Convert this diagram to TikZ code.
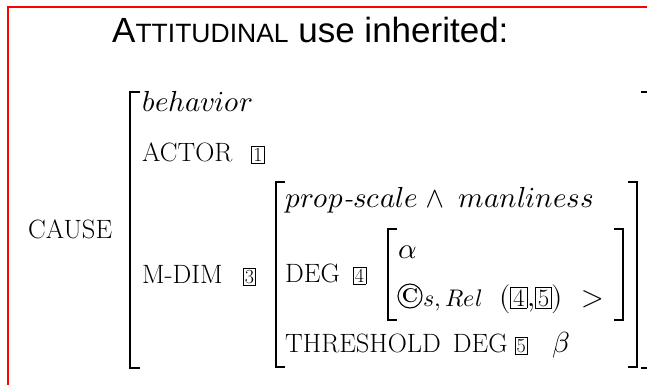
\documentclass[tikz,border=0pt]{standalone}
\usepackage{fontspec}
\usepackage{unicode-math}
\newfontfamily\headfont{Liberation Sans}
\newcommand{\tagbox}[1]{{\setlength{\fboxsep}{1.5pt}\setlength{\fboxrule}{0.6pt}\fbox{\fontsize{20}{20}\selectfont\upshape #1}}}
\newcommand{\bigtagbox}[1]{{\setlength{\fboxsep}{2pt}\setlength{\fboxrule}{0.6pt}\fbox{\fontsize{25}{25}\selectfont\upshape #1}}}
\newcommand{\mth}[1]{{\fontsize{29}{34}\selectfont$#1$}}
\begin{document}
\begin{tikzpicture}[x=1pt,y=-1pt,
  avm/.style={anchor=base west, inner sep=0pt, font=\fontsize{26.5}{30}\selectfont},
  avmm/.style={anchor=base west, inner sep=0pt, font=\fontsize{29}{34}\selectfont},
  brk/.style={line width=1.8pt}]
\useasboundingbox (0,0) rectangle (647,384);
\draw[red, line width=2.5pt] (8,390) -- (8,7) -- (650,7);
% heading
\node[anchor=base west, inner sep=0pt, font=\headfont\fontsize{35}{38}\selectfont] (title) at (112,42) {A{\fontsize{26.5}{30}\selectfont TTITUDINAL} use inherited:};
% outer structure
\node[avm] (cause) at (28,238) {CAUSE};
\node[avmm] (behav) at (142,111) {$behavior$};
\node[avm] (actor) at (142,161) {ACTOR\hspace{19pt}\tagbox{1}};
\node[avm] (mdim) at (142,283) {M-DIM\hspace{20pt}\tagbox{3}};
% value of m-dim
\node[avmm] (prop) at (285,207) {$prop$\textit{-}$scale$\hspace{8pt}$\wedge$\hspace{14pt}$manliness$};
\node[avm] (deg) at (285,282) {DEG\hspace{13pt}\tagbox{4}};
\node[avm] (thresh) at (285,352) {THRESHOLD\hspace{12pt}DEG\hspace{7pt}\tagbox{5}\hspace{25pt}\mth{\beta}};
% value of deg
\node[avmm] (alpha) at (398,258) {$\alpha$};
\node[draw, circle, line width=1.1pt, minimum size=24pt, inner sep=0pt, font=\fontsize{20}{20}\selectfont\bfseries] (circ) at (410,296) {C};
\node[anchor=base west, inner sep=0pt, font=\fontsize{24}{28}\selectfont] (sub) at (423,306) {$s,Rel$};
\node[avmm] (args) at (499,306) {$($\bigtagbox{4}$,$\bigtagbox{5}$)$\hspace{18pt}$>$};
% brackets
\draw[brk] (140,92) -- (130,92) -- (130,368) -- (140,368);
\draw[brk] (641,92) -- (650,92) -- (650,368) -- (641,368);
\draw[brk] (285,182) -- (276,182) -- (276,367) -- (285,367);
\draw[brk] (628,182) -- (637,182) -- (637,367) -- (628,367);
\draw[brk] (397,229) -- (388,229) -- (388,320) -- (397,320);
\draw[brk] (614,229) -- (623,229) -- (623,320) -- (614,320);
\end{tikzpicture}
\end{document}
